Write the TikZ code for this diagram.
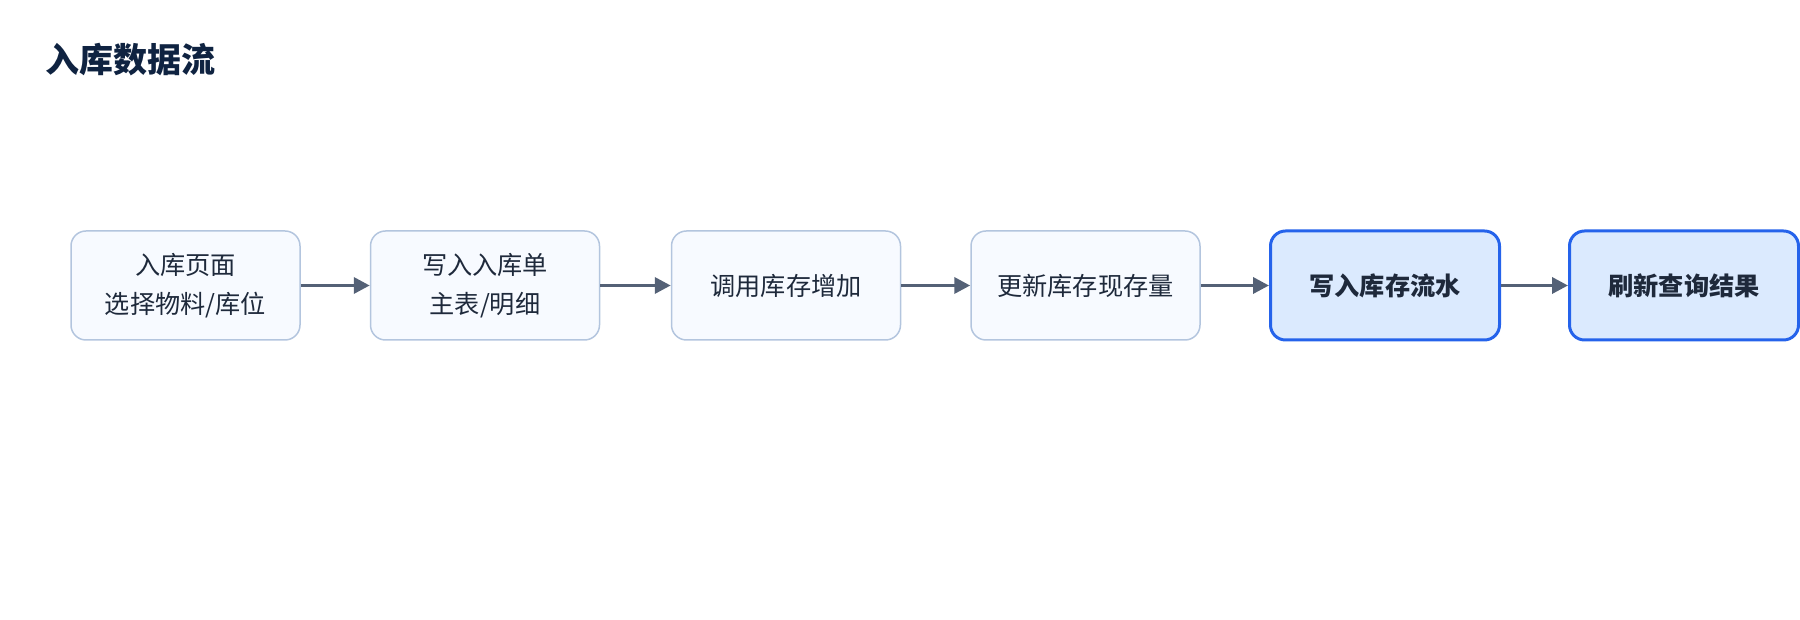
\documentclass[tikz,border=0pt]{standalone}
\usepackage{fontspec}
\setmainfont{Noto Sans CJK SC}
\usetikzlibrary{arrows.meta}
\definecolor{titlec}{HTML}{0F2341}
\definecolor{textc}{HTML}{1E293B}
\definecolor{nfill}{HTML}{F7FAFF}
\definecolor{ndraw}{HTML}{B3C5DE}
\definecolor{hfill}{HTML}{DBEAFE}
\definecolor{hdraw}{HTML}{2563EB}
\definecolor{arrc}{HTML}{546176}
\tikzset{
  box/.style={rectangle, rounded corners=15pt, minimum width=229pt, minimum height=109pt,
    fill=nfill, draw=ndraw, line width=1.5pt, text=textc, align=center,
    font=\fontsize{25.2}{38.5}\selectfont, inner sep=0pt},
  hbox/.style={box, fill=hfill, draw=hdraw, line width=3pt, font=\fontsize{25.2}{38.5}\selectfont\bfseries},
  flow/.style={draw=arrc, line width=3.5pt, -{Triangle[length=16pt,width=16pt]}}
}
\begin{document}
\begin{tikzpicture}[x=1pt,y=1pt]
\useasboundingbox (0,0) rectangle (1800,620);
\node[anchor=west, text=titlec, font=\fontsize{34}{40}\selectfont\bfseries, inner sep=0pt] (title) at (45,560) {入库数据流};
\node[box] (n1) at (185.5,334.5) {入库页面\\选择物料/库位};
\node[box] (n2) at (485,334.5) {写入入库单\\主表/明细};
\node[box] (n3) at (786,334.5) {调用库存增加};
\node[box] (n4) at (1085.5,334.5) {更新库存现存量};
\node[hbox] (n5) at (1385,334.5) {写入库存流水};
\node[hbox] (n6) at (1684,334.5) {刷新查询结果};
\draw[flow] (n1) -- (n2);
\draw[flow] (n2) -- (n3);
\draw[flow] (n3) -- (n4);
\draw[flow] (n4) -- (n5);
\draw[flow] (n5) -- (n6);
\end{tikzpicture}
\end{document}
